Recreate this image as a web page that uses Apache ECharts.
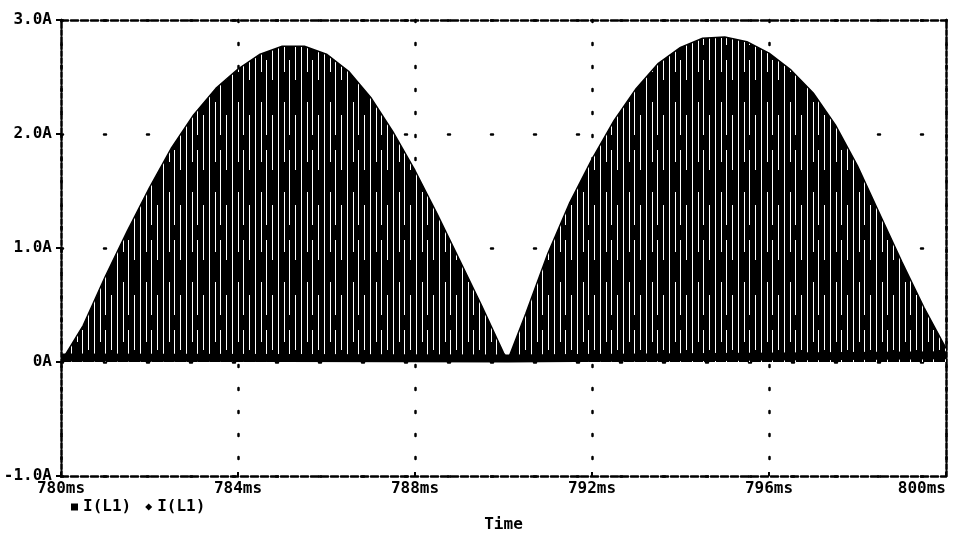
<!DOCTYPE html>
<html>
<head>
<meta charset="utf-8">
<script src="https://cdn.jsdelivr.net/npm/echarts@6/dist/echarts.min.js"></script>
<style>
  html, body { margin: 0; padding: 0; background: #fff; }
  #chart { width: 959px; height: 546px; }
</style>
</head>
<body>
<div id="chart"></div>
<script>
// time axis (ms) and current (A)
var xTicks = [780, 784, 788, 792, 796, 800];
var yTicks = [-1, 0, 1, 2, 3];

// upper envelope of the switching current
var envTime = [780.0, 780.5, 781.0, 781.5, 782.0, 782.5, 783.0, 783.5, 784.0, 784.5,
               785.0, 785.5, 786.0, 786.5, 787.0, 787.5, 788.0, 788.5, 789.0, 789.5,
               790.0, 790.1, 790.5, 791.0, 791.5, 792.0, 792.5, 793.0, 793.5, 794.0,
               794.5, 795.0, 795.5, 796.0, 796.5, 797.0, 797.5, 798.0, 798.5, 799.0,
               799.5, 800.0];
var envCurrent = [0.00, 0.32, 0.75, 1.15, 1.53, 1.88, 2.17, 2.40, 2.57, 2.70,
                  2.77, 2.77, 2.70, 2.55, 2.32, 2.02, 1.68, 1.30, 0.90, 0.50,
                  0.08, 0.02, 0.42, 0.95, 1.40, 1.78, 2.12, 2.40, 2.62, 2.76,
                  2.84, 2.85, 2.81, 2.71, 2.56, 2.36, 2.08, 1.72, 1.30, 0.88,
                  0.48, 0.12];

// lower edge (valley of each switching cycle)
var baseTime = [780.0, 790.1, 800.0];
var baseCurrent = [0.04, 0.03, 0.06];

var envData = envTime.map(function (t, i) { return [t, envCurrent[i]]; });
var baseData = baseTime.map(function (t, i) { return [t, baseCurrent[i]]; });

// fill pattern: black with thin white gaps like the plotter's hatching
var pat = document.createElement('canvas');
pat.width = 23;
pat.height = 90;
var ctx = pat.getContext('2d');
ctx.fillStyle = '#000';
ctx.fillRect(0, 0, pat.width, pat.height);
ctx.fillStyle = '#fff';
ctx.fillRect(2, 0, 1, 90);
ctx.fillRect(8, 12, 1, 60);
ctx.fillRect(13, 0, 1, 45);
ctx.fillRect(13, 60, 1, 30);
ctx.fillRect(19, 25, 1, 55);

var font = 'DejaVu Sans Mono';
var dashH = [7, 3];
var dashV = [5, 2];

var option = {
  animation: false,
  backgroundColor: '#fff',
  grid: { left: 61, right: 13, top: 20, bottom: 70 },
  legend: {
    left: 66,
    top: 494,
    itemWidth: 7,
    itemHeight: 7,
    itemGap: 14,
    textStyle: { color: '#000', fontFamily: font, fontWeight: 'bold', fontSize: 16 },
    data: [
      { name: 'I(L1)', icon: 'rect' },
      { name: 'I(L1) ', icon: 'diamond' }
    ]
  },
  xAxis: [{
    type: 'value',
    min: xTicks[0],
    max: xTicks[xTicks.length - 1],
    interval: 4,
    name: 'Time',
    nameLocation: 'middle',
    nameGap: 41,
    nameTextStyle: { color: '#000', fontFamily: font, fontWeight: 'bold', fontSize: 16 },
    axisLine: { onZero: false, lineStyle: { color: '#000', width: 2.5, type: dashH } },
    axisTick: { inside: true, length: 4, lineStyle: { color: '#000', width: 2 } },
    axisLabel: {
      color: '#000', fontFamily: font, fontWeight: 'bold', fontSize: 16, margin: 5,
      alignMaxLabel: 'right',
      formatter: function (v) { return v + 'ms'; }
    },
    splitLine: { show: true, lineStyle: { color: '#000', width: 2.5, type: [2, 21], cap: 'round' } }
  }, {
    type: 'value',
    position: 'top',
    min: xTicks[0],
    max: xTicks[xTicks.length - 1],
    interval: 4,
    axisLine: { show: true, onZero: false, lineStyle: { color: '#000', width: 2.5, type: dashH } },
    axisTick: { show: false },
    axisLabel: { show: false },
    splitLine: { show: false }
  }],
  yAxis: [{
    type: 'value',
    min: yTicks[0],
    max: yTicks[yTicks.length - 1],
    interval: 1,
    axisLine: { show: true, onZero: false, lineStyle: { color: '#000', width: 2.5, type: dashV } },
    axisTick: { show: true, length: 5, lineStyle: { color: '#000', width: 2 } },
    axisLabel: {
      color: '#000', fontFamily: font, fontWeight: 'bold', fontSize: 16, margin: 9,
      formatter: function (v) { return v === 0 ? '0A' : v.toFixed(1) + 'A'; }
    },
    splitLine: { show: true, lineStyle: { color: '#000', width: 2.5, type: [2, 41], cap: 'round' } }
  }, {
    type: 'value',
    position: 'right',
    min: yTicks[0],
    max: yTicks[yTicks.length - 1],
    interval: 1,
    axisLine: { show: true, onZero: false, lineStyle: { color: '#000', width: 2.5, type: dashV } },
    axisTick: { show: false },
    axisLabel: { show: false },
    splitLine: { show: false }
  }],
  series: [{
    name: 'I(L1)',
    type: 'line',
    data: envData,
    symbol: 'none',
    color: '#000',
    lineStyle: { color: '#000', width: 1.5 },
    areaStyle: { color: { image: pat, repeat: 'repeat' }, opacity: 1 },
    z: 3
  }, {
    name: 'I(L1) ',
    type: 'line',
    data: baseData,
    symbol: 'none',
    color: '#000',
    lineStyle: { color: '#000', width: 8 },
    z: 4
  }]
};

var chart = echarts.init(document.getElementById('chart'));
chart.setOption(option);
</script>
</body>
</html>
